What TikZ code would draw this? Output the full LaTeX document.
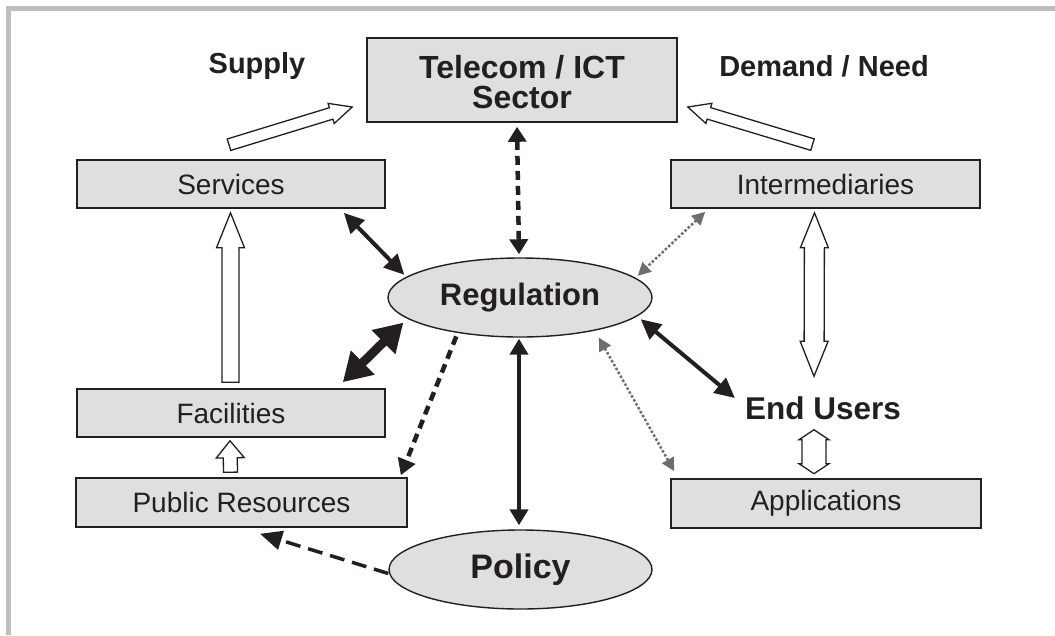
\documentclass[tikz,border=0pt]{standalone}
\usepackage{fontspec}
\setmainfont{Liberation Sans}
\usetikzlibrary{arrows.meta,shapes.geometric,calc}
\definecolor{ink}{HTML}{231F20}
\definecolor{panel}{HTML}{DFDFDF}
\definecolor{framegray}{HTML}{BCBEC0}
\definecolor{dotgray}{HTML}{6D6E70}

% hollow block arrow: #1 tail, #2 tip, #3 shaft half width, #4 head half width, #5 head length
\newcommand{\hollowarrow}[5]{%
  \draw[hollow] let \p1=(#1), \p2=(#2),
    \n1={atan2(\y2-\y1,\x2-\x1)}, \n2={veclen(\x2-\x1,\y2-\y1)} in
    ($(\p1)+({\n1-90}:#3)$)
 -- ($(\p1)+({\n1}:{\n2-#5})+({\n1-90}:#3)$)
 -- ($(\p1)+({\n1}:{\n2-#5})+({\n1-90}:#4)$)
 -- (\p2)
 -- ($(\p1)+({\n1}:{\n2-#5})+({\n1+90}:#4)$)
 -- ($(\p1)+({\n1}:{\n2-#5})+({\n1+90}:#3)$)
 -- ($(\p1)+({\n1+90}:#3)$) -- cycle;}

% hollow block arrow with a head at both ends
\newcommand{\hollowdouble}[5]{%
  \draw[hollow] let \p1=(#1), \p2=(#2),
    \n1={atan2(\y2-\y1,\x2-\x1)}, \n2={veclen(\x2-\x1,\y2-\y1)} in
    (\p1)
 -- ($(\p1)+({\n1}:#5)+({\n1-90}:#4)$)
 -- ($(\p1)+({\n1}:#5)+({\n1-90}:#3)$)
 -- ($(\p1)+({\n1}:{\n2-#5})+({\n1-90}:#3)$)
 -- ($(\p1)+({\n1}:{\n2-#5})+({\n1-90}:#4)$)
 -- (\p2)
 -- ($(\p1)+({\n1}:{\n2-#5})+({\n1+90}:#4)$)
 -- ($(\p1)+({\n1}:{\n2-#5})+({\n1+90}:#3)$)
 -- ($(\p1)+({\n1}:#5)+({\n1+90}:#3)$)
 -- ($(\p1)+({\n1}:#5)+({\n1+90}:#4)$)
 -- cycle;}

\begin{document}
\begin{tikzpicture}[x=1pt,y=-1pt,
  box/.style={draw=ink, fill=panel, line width=1.6pt, inner sep=0pt, text=ink,
    font=\fontsize{28}{30}\selectfont},
  oval/.style={ellipse, draw=ink, fill=panel, line width=1.4pt, inner sep=0pt, text=ink},
  heading/.style={inner sep=0pt, text=ink, font=\bfseries\fontsize{29}{30}\selectfont},
  hollow/.style={draw=ink, fill=white, line width=1.3pt, line join=miter},
  solidlink/.style={draw=ink, line width=4pt,
    {Triangle[length=20pt,width=19pt]}-{Triangle[length=20pt,width=19pt]}},
  heavylink/.style={draw=ink, line width=9pt,
    {Triangle[length=28pt,width=32pt]}-{Triangle[length=28pt,width=32pt]}},
  dashlink/.style={draw=ink, line width=4.5pt, dash pattern=on 9pt off 6pt},
  dotlink/.style={draw=dotgray, line width=2.5pt, dash pattern=on 2.5pt off 2pt,
    {Triangle[length=13pt,width=13pt]}-{Triangle[length=13pt,width=13pt]}}
]
\useasboundingbox (0,0) rectangle (1055,635);

% page frame
\fill[framegray] (6,6) rectangle (1055,11);
\fill[framegray] (6,6) rectangle (11,635);

% boxes
\node[box, minimum width=310pt, minimum height=84pt] (tel) at (522,80) {};
\node[inner sep=0pt, text=ink, align=center, font=\bfseries\fontsize{32}{30}\selectfont]
  (telname) at ([yshift=-2pt]tel.center) {Telecom / ICT\\Sector};
\node[box, minimum width=308pt, minimum height=48pt] (svc) at (231,184) {Services};
\node[box, minimum width=309pt, minimum height=48pt] (int) at (825.5,184) {Intermediaries};
\node[box, minimum width=308pt, minimum height=48pt] (fac) at (231,413) {Facilities};
\node[box, minimum width=331pt, minimum height=49pt] (pub) at (241.5,502.5) {Public Resources};
\node[box, minimum width=310pt, minimum height=49pt] (app) at (826,503.5) {Applications};

% ovals
\node[oval, minimum width=264pt, minimum height=79pt,
  font=\bfseries\fontsize{31}{31}\selectfont] (reg) at (520,297.5) {Regulation};
\node[oval, minimum width=263pt, minimum height=79pt,
  font=\bfseries\fontsize{34}{34}\selectfont] (pol) at (520.5,569.5) {Policy};

% free labels
\node[heading] (sup) at (257,66) {Supply};
\node[heading] (dem) at (824,66) {Demand / Need};
\node[heading, font=\bfseries\fontsize{31.5}{31.5}\selectfont] (eu) at (823,408) {End Users};

% supply and demand flows into the sector
\hollowarrow{[shift={(-2,-14.5)}]svc.north}{[shift={(-14,27)}]tel.west}{6pt}{10.5pt}{22pt}
\hollowarrow{[shift={(-13,-14.6)}]int.north}{[shift={(10,27)}]tel.east}{6pt}{10.5pt}{22pt}

% supply chain on the left
\hollowarrow{[shift={(-0.5,-6)}]fac.north}{[shift={(-0.5,4)}]svc.south}{8.5pt}{14pt}{35pt}
\hollowarrow{[shift={(-11,-5)}]pub.north}{[shift={(-1,3)}]fac.south}{7pt}{14pt}{17pt}

% demand chain on the right
\hollowdouble{[shift={(-11,4)}]int.south}{[shift={(-9,-20)}]eu.north}{10pt}{14pt}{35pt}
\hollowdouble{[shift={(-9,10)}]eu.south}{[shift={(-12,-4.5)}]app.north}{12pt}{15pt}{10pt}

% regulation links
\draw[dashlink, {Triangle[length=15pt,width=18pt]}-{Triangle[length=15pt,width=18pt]}]
  ([shift={(-3,4)}]reg.north |- tel.south) -- ([shift={(-1,-3)}]reg.north);
\draw[solidlink] ([shift={(-42,4)}]svc.south east) -- ([shift={(-4,-1)}]reg.169);
\draw[heavylink] ([shift={(-43,-6)}]fac.north east) -- ([shift={(-8,2)}]reg.192);
\draw[solidlink] ([shift={(6,1.5)}]reg.-10) -- ([shift={(-10,-10)}]eu.west);
\draw[solidlink, {Triangle[length=16pt,width=18pt]}-{Triangle[length=16pt,width=18pt]}]
  ([shift={(-1,1)}]reg.south) -- ([shift={(-1.5,-4)}]pol.north);
\draw[dashlink, -{Triangle[length=16pt,width=18pt]}]
  ([shift={(-4,3)}]reg.211) -- ([shift={(-7,-2)}]pub.north east);
\draw[draw=ink, line width=3.5pt, dash pattern=on 15pt off 8pt,
  -{Triangle[length=22pt,width=19pt]}]
  ([shift={(0,4)}]pol.west) -- ([shift={(18.5,6)}]pub.south);
\draw[dotlink] ([shift={(35,3)}]int.south west) -- ([shift={(3,-1.5)}]reg.10);
\draw[dotlink] ([shift={(11,5.5)}]reg.-27) -- ([shift={(4,-7)}]app.north west);
\end{tikzpicture}
\end{document}
